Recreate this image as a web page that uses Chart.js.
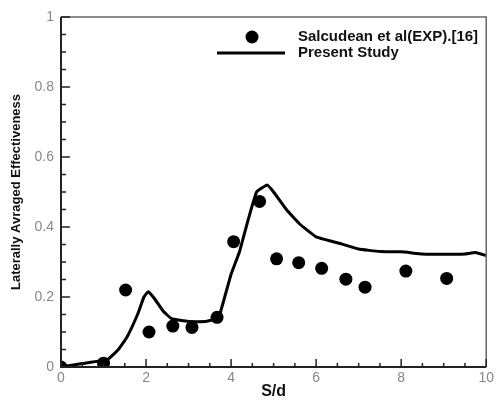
<!DOCTYPE html>
<html lang="en">
<head>
    <meta charset="UTF-8">
    <title>Laterally Averaged Effectiveness</title>
    <script src="https://cdn.jsdelivr.net/npm/chart.js"></script>
    <style>
        html, body { margin: 0; padding: 0; background: #fff; }
        .chart-container { width: 497px; height: 401px; }
    </style>
</head>
<body>
    <div class="chart-container">
        <canvas id="effChart"></canvas>
    </div>

    <script>
        // experiment (Salcudean et al.)
        const expX = [0, 1.0, 1.52, 2.07, 2.63, 3.08, 3.67, 4.06, 4.67, 5.07, 5.59, 6.13, 6.70, 7.15, 8.11, 9.07];
        const expY = [0, 0.011, 0.22, 0.10, 0.117, 0.113, 0.142, 0.358, 0.473, 0.309, 0.298, 0.282, 0.251, 0.228, 0.274, 0.253];

        // present study (CFD line)
        const simX = [0, 0.5, 1.1, 1.35, 1.55, 1.8, 1.95, 2.05, 2.2, 2.4, 2.6, 3.0, 3.4, 3.7, 3.85, 4.0, 4.2, 4.4, 4.6, 4.85, 5.0, 5.3, 5.6, 6.0, 6.5, 7.0, 7.5, 8.0, 8.5, 9.0, 9.5, 9.75, 10];
        const simY = [0, 0.01, 0.022, 0.05, 0.085, 0.15, 0.2, 0.215, 0.195, 0.16, 0.138, 0.13, 0.13, 0.14, 0.2, 0.265, 0.33, 0.42, 0.5, 0.52, 0.5, 0.45, 0.41, 0.372, 0.355, 0.337, 0.33, 0.329, 0.323, 0.322, 0.323, 0.327, 0.318];

        const xTicks = [0, 2, 4, 6, 8, 10];
        const yTicks = [0, 0.2, 0.4, 0.6, 0.8, 1];

        const toPoints = (xs, ys) => xs.map((x, i) => ({ x: x, y: ys[i] }));

        // frame, inward ticks and the legend box
        const framePlugin = {
            id: 'frame',
            afterDatasetsDraw(chart) {
                const { ctx, chartArea: a, scales } = chart;
                const xs = scales.x, ys = scales.y;
                ctx.save();
                ctx.strokeStyle = '#666';
                ctx.lineWidth = 1.5;
                ctx.beginPath();
                ctx.moveTo(a.left, a.top);
                ctx.lineTo(a.right, a.top);
                ctx.lineTo(a.right, a.bottom);
                ctx.stroke();

                ctx.strokeStyle = '#222';
                ctx.lineWidth = 2;
                ctx.beginPath();
                ctx.moveTo(a.left, a.top);
                ctx.lineTo(a.left, a.bottom);
                ctx.lineTo(a.right, a.bottom);
                ctx.stroke();

                ctx.lineWidth = 1.5;
                ctx.beginPath();
                for (let v = 0; v <= 10.001; v += 0.5) {
                    const px = xs.getPixelForValue(v);
                    const len = (Math.abs(v % 2) < 0.01) ? 8 : 4;
                    ctx.moveTo(px, a.bottom);
                    ctx.lineTo(px, a.bottom - len);
                }
                for (let v = 0; v <= 1.0001; v += 0.05) {
                    const py = ys.getPixelForValue(v);
                    const major = Math.abs(Math.round(v * 100) % 20) === 0;
                    ctx.moveTo(a.left, py);
                    ctx.lineTo(a.left + (major ? 9 : 5), py);
                }
                ctx.stroke();

                // legend
                const ds = chart.data.datasets;
                ctx.fillStyle = ds[0].pointBackgroundColor;
                ctx.beginPath();
                ctx.arc(252, 37, 6.5, 0, Math.PI * 2);
                ctx.fill();
                ctx.strokeStyle = ds[1].borderColor;
                ctx.lineWidth = 3;
                ctx.beginPath();
                ctx.moveTo(217, 53);
                ctx.lineTo(285, 53);
                ctx.stroke();
                ctx.fillStyle = '#111';
                ctx.font = 'bold 15px Arial, "Liberation Sans", sans-serif';
                ctx.textBaseline = 'middle';
                ctx.fillText(ds[0].label, 298, 37);
                ctx.fillText(ds[1].label, 298, 53);
                ctx.restore();
            }
        };

        const ctx = document.getElementById('effChart').getContext('2d');
        new Chart(ctx, {
            type: 'scatter',
            data: {
                datasets: [{
                    label: 'Salcudean et al(EXP).[16]',
                    data: toPoints(expX, expY),
                    pointRadius: 6.5,
                    pointBackgroundColor: '#000',
                    pointBorderWidth: 0,
                    showLine: false,
                    order: 1
                }, {
                    label: 'Present Study',
                    data: toPoints(simX, simY),
                    showLine: true,
                    borderColor: '#000',
                    borderWidth: 3,
                    pointRadius: 0,
                    tension: 0.1,
                    order: 2
                }]
            },
            options: {
                responsive: true,
                maintainAspectRatio: false,
                animation: false,
                layout: { padding: { left: 0, top: 17, right: 7, bottom: 0 } },
                plugins: {
                    legend: { display: false },
                    tooltip: { enabled: false }
                },
                scales: {
                    x: {
                        type: 'linear',
                        min: 0,
                        max: 10,
                        afterFit: s => { s.height = 34; },
                        afterBuildTicks: s => { s.ticks = xTicks.map(v => ({ value: v })); },
                        grid: { display: false, drawTicks: false },
                        border: { display: false },
                        ticks: {
                            padding: 3,
                            color: '#888',
                            callback: v => String(v),
                            font: { size: 14, family: 'Arial, "Liberation Sans", sans-serif' }
                        },
                        title: {
                            display: true,
                            text: 'S/d',
                            color: '#111',
                            padding: { top: 0, bottom: 0 },
                            font: { size: 16, weight: 'bold', family: 'Arial, "Liberation Sans", sans-serif' }
                        }
                    },
                    y: {
                        min: 0,
                        max: 1,
                        afterFit: s => { s.width = 61; },
                        afterBuildTicks: s => { s.ticks = yTicks.map(v => ({ value: v })); },
                        grid: { display: false, drawTicks: false },
                        border: { display: false },
                        ticks: {
                            padding: 7,
                            color: '#888',
                            callback: v => String(v),
                            font: { size: 14, family: 'Arial, "Liberation Sans", sans-serif' }
                        },
                        title: {
                            display: true,
                            text: 'Laterally Avraged Effectiveness',
                            color: '#111',
                            padding: { top: 9, bottom: 0 },
                            font: { size: 13, weight: 'bold', family: 'Arial, "Liberation Sans", sans-serif' }
                        }
                    }
                }
            },
            plugins: [framePlugin]
        });
    </script>
</body>
</html>
